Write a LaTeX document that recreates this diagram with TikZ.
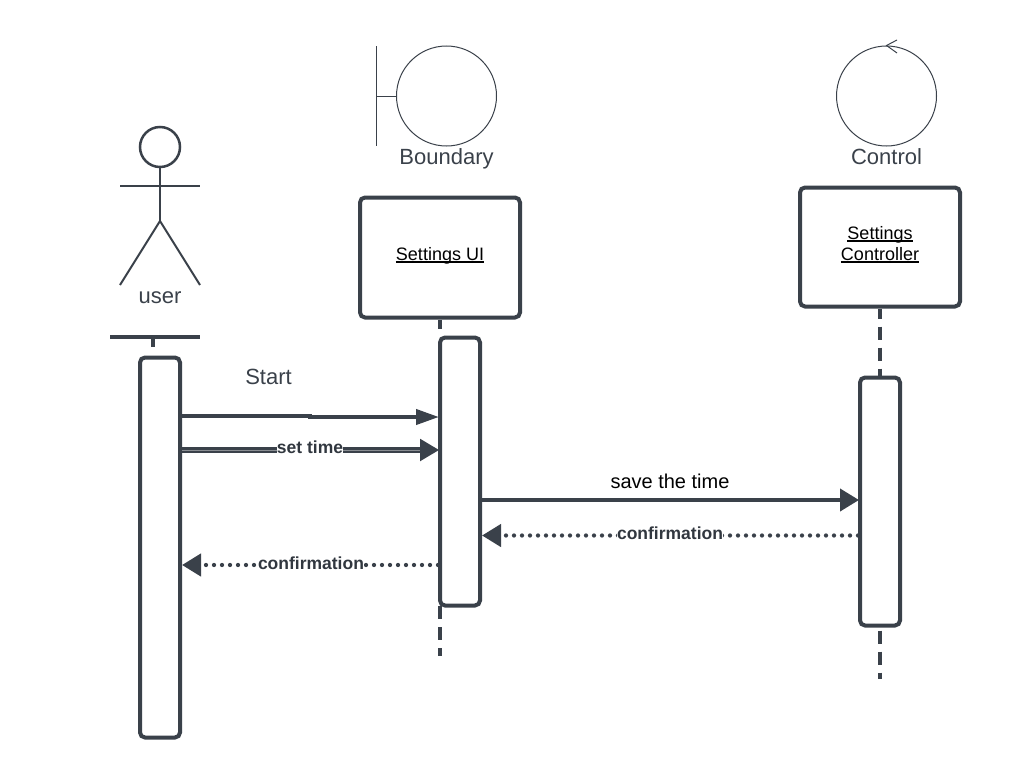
\documentclass[tikz,border=0pt]{standalone}
\usepackage{fontspec}
\setmainfont{Liberation Sans}
\usetikzlibrary{arrows.meta}
\definecolor{ink}{HTML}{3A414A}
\newlength\ulwd
\newcommand{\ulined}[1]{\settowidth{\ulwd}{#1}\rlap{#1}\rule[-2.4pt]{\ulwd}{1.4pt}\rule[-7.8pt]{0pt}{7.8pt}}
\tikzset{
    bar/.style={draw=ink,line width=4pt,rounded corners=5pt,fill=white,inner sep=0pt,minimum width=40pt},
    objbox/.style={draw=ink,line width=4pt,rounded corners=5pt,fill=white,inner sep=0pt,minimum width=160pt,align=center,font=\fontsize{18}{21}\selectfont,text=black},
    role/.style={circle,draw=ink,line width=1pt,minimum size=100pt,inner sep=0pt},
    label/.style={inner sep=0pt,text=ink,font=\fontsize{22}{26}\selectfont},
    msglabel/.style={inner sep=0pt,fill=white,text=ink!85!black,font=\bfseries\fontsize{17.5}{21}\selectfont},
    lifeline/.style={draw=ink,line width=4pt,dash pattern=on 13pt off 8pt},
    msg/.style={draw=ink,line width=4pt,shorten >=-1pt,-{Triangle[length=23pt,width=15pt,fill=ink]}},
    reply/.style={draw=ink,line width=4.3pt,line cap=round,dash pattern=on 0pt off 8pt,-{Triangle[length=19pt,width=22pt,fill=ink,line cap=butt]}},
    limb/.style={draw=ink,line width=2pt}
}
\begin{document}
\begin{tikzpicture}[x=1pt,y=-1pt]
    \useasboundingbox (0,0) rectangle (1017,779);
    % user
    \node[circle,draw=ink,line width=2.5pt,minimum size=40pt,inner sep=0pt] (head) at (160,147) {};
    \coordinate (hip) at (160,221);
    \coordinate (armL) at (120,186);
    \coordinate (armR) at (200,186);
    \coordinate (legL) at (120,285);
    \coordinate (legR) at (200,285);
    \draw[limb] (head.south) -- (hip);
    \draw[limb] (armL) -- (armR);
    \draw[limb] (legL) -- (hip) -- (legR);
    \node[label] (user) at (160,298) {user};
    \coordinate (topL) at (110,337);
    \coordinate (topR) at (200,337);
    \draw[draw=ink,line width=4pt] (topL) -- (topR);
    % boundary
    \node[role] (boundary) at (446.5,96) {};
    \coordinate (wallT) at (376.5,46);
    \coordinate (wallB) at (376.5,146);
    \coordinate (wallM) at (376.5,96);
    \draw[draw=ink,line width=1pt] (wallT) -- (wallB);
    \draw[draw=ink,line width=1pt] (wallM) -- (boundary.west);
    \node[label] (boundaryText) at (446.5,159) {Boundary};
    % control
    \node[role] (control) at (886.5,96) {};
    \coordinate (tipA) at (897,40);
    \coordinate (tipB) at (897,53);
    \draw[draw=ink,line width=1pt] (tipA) -- (control.north) -- (tipB);
    \node[label] (controlText) at (886.5,157) {Control};
    % objects
    \node[objbox,minimum height=120pt] (ui) at (440,257.5) {\ulined{Settings UI}};
    \node[objbox,minimum height=119pt] (ctrl) at (880,247) {\ulined{Settings}\\\ulined{Controller}};
    % bars
    \node[bar,minimum height=380pt] (userBar) at (160,547.5) {};
    \node[bar,minimum height=268pt] (uiBar) at (460,471.5) {};
    \node[bar,minimum height=248pt] (ctrlBar) at (880,501.5) {};
    % lifelines
    \coordinate (uiEnd) at (440,656);
    \coordinate (ctrlEnd) at (880,679);
    \draw[draw=ink,line width=4pt] (153,337) -- (153,347);
    \draw[lifeline,dash phase=4pt] (ui.south) -- (440,336);
    \draw[lifeline] (440,606) -- (uiEnd);
    \draw[lifeline,dash phase=3pt] (ctrl.south) -- (ctrlBar.north);
    \draw[lifeline,dash phase=18pt] (ctrlBar.south) -- (ctrlEnd);
    % messages
    \draw[msg] (userBar.east |- 0,416) -- (310,416) -- (310,417) -- (uiBar.west |- 0,417);
    \node[label] (startText) at (268.5,377) {Start};
    \draw[msg,-{Triangle[length=19pt,width=22pt,fill=ink]},double=ink!60!white,double distance=0.5pt,line width=2.3pt] (userBar.east |- 0,450) -- (uiBar.west |- 0,450);
    \node[msglabel] (setTime) at (310,447) {set time};
    \draw[msg,-{Triangle[length=19pt,width=22pt,fill=ink]}] (uiBar.east |- 0,500) -- (ctrlBar.west |- 0,500);
    \node[inner sep=0pt,text=black,font=\fontsize{20}{24}\selectfont] (saveText) at (670,481) {save the time};
    \draw[reply] (ctrlBar.west |- 0,535.5) -- (uiBar.east |- 0,535.5);
    \node[msglabel] (confirmB) at (670,533) {confirmation};
    \draw[reply] (uiBar.west |- 0,565) -- (userBar.east |- 0,565);
    \node[msglabel] (confirmA) at (311,563) {confirmation};
\end{tikzpicture}
\end{document}
